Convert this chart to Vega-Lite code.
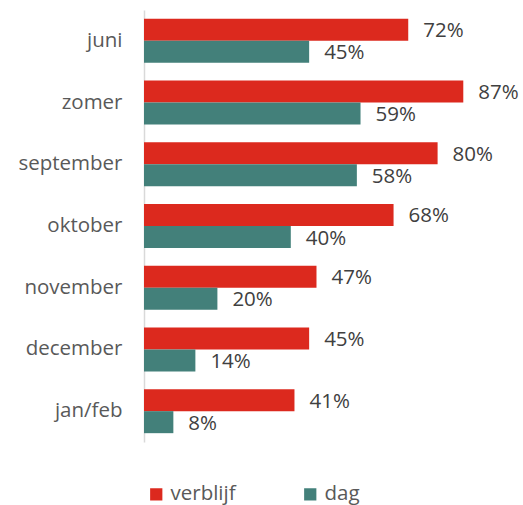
{
  "$schema": "https://vega.github.io/schema/vega-lite/v6.json",
  "width": 367,
  "height": 432,
  "autosize": {"type": "none"},
  "padding": {"left": 144, "top": 10, "right": 12, "bottom": 63},
  "background": "white",
  "config": {"view": {"stroke": null}, "font": "Open Sans"},
  "data": {
    "values": [
      {"maand": "juni", "reeks": "verblijf", "pct": 0.72},
      {"maand": "juni", "reeks": "dag", "pct": 0.45},
      {"maand": "zomer", "reeks": "verblijf", "pct": 0.87},
      {"maand": "zomer", "reeks": "dag", "pct": 0.59},
      {"maand": "september", "reeks": "verblijf", "pct": 0.80},
      {"maand": "september", "reeks": "dag", "pct": 0.58},
      {"maand": "oktober", "reeks": "verblijf", "pct": 0.68},
      {"maand": "oktober", "reeks": "dag", "pct": 0.40},
      {"maand": "november", "reeks": "verblijf", "pct": 0.47},
      {"maand": "november", "reeks": "dag", "pct": 0.20},
      {"maand": "december", "reeks": "verblijf", "pct": 0.45},
      {"maand": "december", "reeks": "dag", "pct": 0.14},
      {"maand": "jan/feb", "reeks": "verblijf", "pct": 0.41},
      {"maand": "jan/feb", "reeks": "dag", "pct": 0.08}
    ]
  },
  "encoding": {
    "y": {
      "field": "maand", "type": "nominal", "sort": null,
      "scale": {"paddingInner": 0.287, "paddingOuter": 0.143},
      "axis": {"title": null, "ticks": false, "domainColor": "#d9d9d9", "domainWidth": 1.5, "labelFontSize": 20.5, "labelColor": "#595959", "labelPadding": 22, "labelFont": "Open Sans"}
    },
    "yOffset": {"field": "reeks", "type": "nominal", "sort": ["verblijf", "dag"]},
    "x": {
      "field": "pct", "type": "quantitative",
      "scale": {"domain": [0, 1]},
      "axis": null
    }
  },
  "layer": [
    {
      "mark": {"type": "bar"},
      "encoding": {
        "color": {
          "field": "reeks", "type": "nominal", "sort": ["verblijf", "dag"],
          "scale": {"domain": ["verblijf", "dag"], "range": ["#dc291e", "#43807a"]},
          "legend": {
            "title": null, "orient": "none", "direction": "horizontal",
            "legendX": 2, "legendY": 474,
            "symbolType": "square", "symbolSize": 150, "symbolStrokeWidth": 0,
            "labelFontSize": 20.5, "labelColor": "#595959", "labelFont": "Open Sans",
            "labelOffset": 4, "columnPadding": 64
          }
        }
      }
    },
    {
      "mark": {"type": "text", "align": "left", "baseline": "middle", "dx": 15, "dy": 1.5, "fontSize": 20.5, "color": "#404040", "font": "Open Sans"},
      "encoding": {
        "text": {"field": "pct", "type": "quantitative", "format": ".0%"}
      }
    }
  ]
}
